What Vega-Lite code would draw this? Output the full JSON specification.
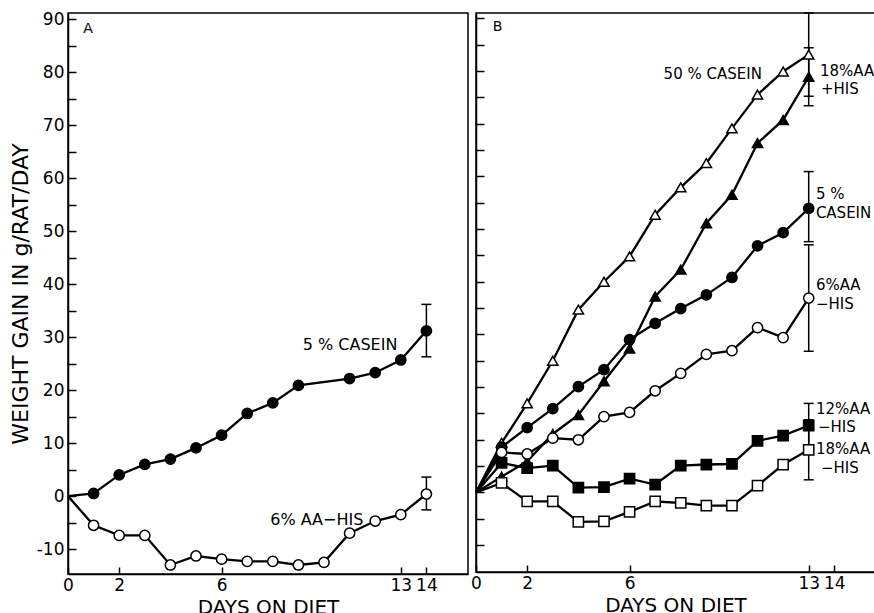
{
  "$schema": "https://vega.github.io/schema/vega-lite/v6.json",
  "background": "white",
  "padding": {"left": 8, "top": 9, "right": 0, "bottom": 0},
  "spacing": 0,
  "config": {
    "font": "DejaVu Sans",
    "view": {"stroke": "black", "strokeWidth": 1.5},
    "axis": {"domainColor": "black", "domainWidth": 1.5, "tickColor": "black", "tickWidth": 1.5, "labelColor": "black", "titleColor": "black", "labelFont": "DejaVu Sans", "titleFont": "DejaVu Sans", "grid": false, "labelFontSize": 17, "titleFontSize": 20, "titleFontWeight": "normal", "labelFlush": false, "labelOverlap": false},
    "text": {"font": "DejaVu Sans", "color": "black"}
  },
  "resolve": {"scale": {"x": "independent", "y": "independent"}},
  "datasets": {
    "pts": [
      {"panel": "A", "series": "5% casein", "day": 0, "gain": 0},
      {"panel": "A", "series": "5% casein", "day": 1, "gain": 0.5},
      {"panel": "A", "series": "5% casein", "day": 2, "gain": 4.0},
      {"panel": "A", "series": "5% casein", "day": 3, "gain": 6.0},
      {"panel": "A", "series": "5% casein", "day": 4, "gain": 7.0},
      {"panel": "A", "series": "5% casein", "day": 5, "gain": 9.1},
      {"panel": "A", "series": "5% casein", "day": 6, "gain": 11.5},
      {"panel": "A", "series": "5% casein", "day": 7, "gain": 15.6},
      {"panel": "A", "series": "5% casein", "day": 8, "gain": 17.6},
      {"panel": "A", "series": "5% casein", "day": 9, "gain": 20.9},
      {"panel": "A", "series": "5% casein", "day": 11, "gain": 22.2},
      {"panel": "A", "series": "5% casein", "day": 12, "gain": 23.3},
      {"panel": "A", "series": "5% casein", "day": 13, "gain": 25.7},
      {"panel": "A", "series": "5% casein", "day": 14, "gain": 31.2},
      {"panel": "A", "series": "6% AA-HIS", "day": 0, "gain": 0},
      {"panel": "A", "series": "6% AA-HIS", "day": 1, "gain": -5.5},
      {"panel": "A", "series": "6% AA-HIS", "day": 2, "gain": -7.4},
      {"panel": "A", "series": "6% AA-HIS", "day": 3, "gain": -7.4},
      {"panel": "A", "series": "6% AA-HIS", "day": 4, "gain": -13.0},
      {"panel": "A", "series": "6% AA-HIS", "day": 5, "gain": -11.3},
      {"panel": "A", "series": "6% AA-HIS", "day": 6, "gain": -11.9},
      {"panel": "A", "series": "6% AA-HIS", "day": 7, "gain": -12.3},
      {"panel": "A", "series": "6% AA-HIS", "day": 8, "gain": -12.3},
      {"panel": "A", "series": "6% AA-HIS", "day": 9, "gain": -13.0},
      {"panel": "A", "series": "6% AA-HIS", "day": 10, "gain": -12.5},
      {"panel": "A", "series": "6% AA-HIS", "day": 11, "gain": -7.0},
      {"panel": "A", "series": "6% AA-HIS", "day": 12, "gain": -4.7},
      {"panel": "A", "series": "6% AA-HIS", "day": 13, "gain": -3.5},
      {"panel": "A", "series": "6% AA-HIS", "day": 14, "gain": 0.4},
      {"panel": "B", "series": "50% casein", "day": 0, "gain": 0},
      {"panel": "B", "series": "50% casein", "day": 1, "gain": 9.4},
      {"panel": "B", "series": "50% casein", "day": 2, "gain": 16.9},
      {"panel": "B", "series": "50% casein", "day": 3, "gain": 25.0},
      {"panel": "B", "series": "50% casein", "day": 4, "gain": 34.7},
      {"panel": "B", "series": "50% casein", "day": 5, "gain": 40.0},
      {"panel": "B", "series": "50% casein", "day": 6, "gain": 44.8},
      {"panel": "B", "series": "50% casein", "day": 7, "gain": 52.7},
      {"panel": "B", "series": "50% casein", "day": 8, "gain": 57.9},
      {"panel": "B", "series": "50% casein", "day": 9, "gain": 62.5},
      {"panel": "B", "series": "50% casein", "day": 10, "gain": 69.1},
      {"panel": "B", "series": "50% casein", "day": 11, "gain": 75.5},
      {"panel": "B", "series": "50% casein", "day": 12, "gain": 79.9},
      {"panel": "B", "series": "50% casein", "day": 13, "gain": 83.1},
      {"panel": "B", "series": "18% AA+HIS", "day": 0, "gain": 0},
      {"panel": "B", "series": "18% AA+HIS", "day": 1, "gain": 3.0},
      {"panel": "B", "series": "18% AA+HIS", "day": 2, "gain": 5.9},
      {"panel": "B", "series": "18% AA+HIS", "day": 3, "gain": 11.1},
      {"panel": "B", "series": "18% AA+HIS", "day": 4, "gain": 14.7},
      {"panel": "B", "series": "18% AA+HIS", "day": 5, "gain": 21.1},
      {"panel": "B", "series": "18% AA+HIS", "day": 6, "gain": 27.3},
      {"panel": "B", "series": "18% AA+HIS", "day": 7, "gain": 37.2},
      {"panel": "B", "series": "18% AA+HIS", "day": 8, "gain": 42.3},
      {"panel": "B", "series": "18% AA+HIS", "day": 9, "gain": 51.1},
      {"panel": "B", "series": "18% AA+HIS", "day": 10, "gain": 56.5},
      {"panel": "B", "series": "18% AA+HIS", "day": 11, "gain": 66.3},
      {"panel": "B", "series": "18% AA+HIS", "day": 12, "gain": 70.7},
      {"panel": "B", "series": "18% AA+HIS", "day": 13, "gain": 78.9},
      {"panel": "B", "series": "5% casein", "day": 0, "gain": 0},
      {"panel": "B", "series": "5% casein", "day": 1, "gain": 8.6},
      {"panel": "B", "series": "5% casein", "day": 2, "gain": 12.3},
      {"panel": "B", "series": "5% casein", "day": 3, "gain": 15.9},
      {"panel": "B", "series": "5% casein", "day": 4, "gain": 20.1},
      {"panel": "B", "series": "5% casein", "day": 5, "gain": 23.3},
      {"panel": "B", "series": "5% casein", "day": 6, "gain": 29.0},
      {"panel": "B", "series": "5% casein", "day": 7, "gain": 32.1},
      {"panel": "B", "series": "5% casein", "day": 8, "gain": 34.9},
      {"panel": "B", "series": "5% casein", "day": 9, "gain": 37.5},
      {"panel": "B", "series": "5% casein", "day": 10, "gain": 40.8},
      {"panel": "B", "series": "5% casein", "day": 11, "gain": 46.8},
      {"panel": "B", "series": "5% casein", "day": 12, "gain": 49.3},
      {"panel": "B", "series": "5% casein", "day": 13, "gain": 53.9},
      {"panel": "B", "series": "6% AA-HIS", "day": 0, "gain": 0},
      {"panel": "B", "series": "6% AA-HIS", "day": 1, "gain": 7.6},
      {"panel": "B", "series": "6% AA-HIS", "day": 2, "gain": 7.3},
      {"panel": "B", "series": "6% AA-HIS", "day": 3, "gain": 10.3},
      {"panel": "B", "series": "6% AA-HIS", "day": 4, "gain": 10.0},
      {"panel": "B", "series": "6% AA-HIS", "day": 5, "gain": 14.4},
      {"panel": "B", "series": "6% AA-HIS", "day": 6, "gain": 15.2},
      {"panel": "B", "series": "6% AA-HIS", "day": 7, "gain": 19.3},
      {"panel": "B", "series": "6% AA-HIS", "day": 8, "gain": 22.6},
      {"panel": "B", "series": "6% AA-HIS", "day": 9, "gain": 26.2},
      {"panel": "B", "series": "6% AA-HIS", "day": 10, "gain": 26.9},
      {"panel": "B", "series": "6% AA-HIS", "day": 11, "gain": 31.3},
      {"panel": "B", "series": "6% AA-HIS", "day": 12, "gain": 29.4},
      {"panel": "B", "series": "6% AA-HIS", "day": 13, "gain": 36.9},
      {"panel": "B", "series": "12% AA-HIS", "day": 0, "gain": 0},
      {"panel": "B", "series": "12% AA-HIS", "day": 1, "gain": 5.6},
      {"panel": "B", "series": "12% AA-HIS", "day": 2, "gain": 4.6},
      {"panel": "B", "series": "12% AA-HIS", "day": 3, "gain": 5.1},
      {"panel": "B", "series": "12% AA-HIS", "day": 4, "gain": 0.9},
      {"panel": "B", "series": "12% AA-HIS", "day": 5, "gain": 1.0},
      {"panel": "B", "series": "12% AA-HIS", "day": 6, "gain": 2.6},
      {"panel": "B", "series": "12% AA-HIS", "day": 7, "gain": 1.5},
      {"panel": "B", "series": "12% AA-HIS", "day": 8, "gain": 5.1},
      {"panel": "B", "series": "12% AA-HIS", "day": 9, "gain": 5.3},
      {"panel": "B", "series": "12% AA-HIS", "day": 10, "gain": 5.4},
      {"panel": "B", "series": "12% AA-HIS", "day": 11, "gain": 9.8},
      {"panel": "B", "series": "12% AA-HIS", "day": 12, "gain": 10.8},
      {"panel": "B", "series": "12% AA-HIS", "day": 13, "gain": 12.7},
      {"panel": "B", "series": "18% AA-HIS", "day": 0, "gain": 0},
      {"panel": "B", "series": "18% AA-HIS", "day": 1, "gain": 1.8},
      {"panel": "B", "series": "18% AA-HIS", "day": 2, "gain": -1.7},
      {"panel": "B", "series": "18% AA-HIS", "day": 3, "gain": -1.7},
      {"panel": "B", "series": "18% AA-HIS", "day": 4, "gain": -5.6},
      {"panel": "B", "series": "18% AA-HIS", "day": 5, "gain": -5.5},
      {"panel": "B", "series": "18% AA-HIS", "day": 6, "gain": -3.7},
      {"panel": "B", "series": "18% AA-HIS", "day": 7, "gain": -1.7},
      {"panel": "B", "series": "18% AA-HIS", "day": 8, "gain": -2.0},
      {"panel": "B", "series": "18% AA-HIS", "day": 9, "gain": -2.5},
      {"panel": "B", "series": "18% AA-HIS", "day": 10, "gain": -2.5},
      {"panel": "B", "series": "18% AA-HIS", "day": 11, "gain": 1.3},
      {"panel": "B", "series": "18% AA-HIS", "day": 12, "gain": 5.3},
      {"panel": "B", "series": "18% AA-HIS", "day": 13, "gain": 8.1}
    ],
    "errs": [
      {"panel": "A", "series": "5% casein", "day": 14, "lo": 26.3, "hi": 36.2},
      {"panel": "A", "series": "6% AA-HIS", "day": 14, "lo": -2.6, "hi": 3.6},
      {"panel": "B", "series": "50% casein", "day": 13, "lo": 75.2, "hi": 91.0},
      {"panel": "B", "series": "18% AA+HIS", "day": 13, "lo": 73.4, "hi": 84.4},
      {"panel": "B", "series": "5% casein", "day": 13, "lo": 47.6, "hi": 60.9},
      {"panel": "B", "series": "6% AA-HIS", "day": 13, "lo": 26.8, "hi": 47.0},
      {"panel": "B", "series": "12% AA-HIS", "day": 13, "lo": 8.5, "hi": 16.9},
      {"panel": "B", "series": "18% AA-HIS", "day": 13, "lo": 2.4, "hi": 13.8}
    ],
    "labels": [
      {"panel": "A", "text": "A", "day": 0.6, "gain": 88.2},
      {"panel": "A", "text": "5 % CASEIN", "day": 9.17, "gain": 28.5},
      {"panel": "A", "text": "6% AA−HIS", "day": 7.9, "gain": -4.5},
      {"panel": "B", "text": "B", "day": 0.65, "gain": 88.4},
      {"panel": "B", "text": "50 % CASEIN", "day": 7.33, "gain": 79.4},
      {"panel": "B", "text": "18%AA", "day": 13.44, "gain": 80.0},
      {"panel": "B", "text": "+HIS", "day": 13.48, "gain": 76.6},
      {"panel": "B", "text": "5 %", "day": 13.28, "gain": 56.6},
      {"panel": "B", "text": "CASEIN", "day": 13.28, "gain": 53.0},
      {"panel": "B", "text": "6%AA", "day": 13.28, "gain": 39.3},
      {"panel": "B", "text": "−HIS", "day": 13.28, "gain": 35.8},
      {"panel": "B", "text": "12%AA", "day": 13.28, "gain": 15.8},
      {"panel": "B", "text": "−HIS", "day": 13.36, "gain": 12.4},
      {"panel": "B", "text": "18%AA", "day": 13.28, "gain": 8.2},
      {"panel": "B", "text": "−HIS", "day": 13.48, "gain": 4.7}
    ]
  },
  "hconcat": [
    {
      "width": 400,
      "height": 561,
      "encoding": {
        "x": {"type": "quantitative", "scale": {"domain": [0, 15.625], "nice": false, "zero": false},
          "axis": {"values": [0, 2, 6, 13, 14], "tickSize": -7, "labelPadding": 10, "title": "DAYS ON DIET", "titlePadding": 4, "format": "d"}},
        "y": {"type": "quantitative", "scale": {"domain": [-14.7, 91.2], "nice": false, "zero": false},
          "axis": {"values": [-10, -5, 0, 5, 10, 15, 20, 25, 30, 35, 40, 45, 50, 55, 60, 65, 70, 75, 80, 85, 90], "tickSize": -8, "labelPadding": 12, "labelExpr": "datum.value % 10 == 0 ? replace(datum.label, '−', '-') : ''", "title": "WEIGHT GAIN IN g/RAT/DAY", "titleFontSize": 22, "titlePadding": 4}}
      },
      "layer": [
        {"mark": {"type": "rule", "color": "black", "strokeWidth": 1.5, "strokeDash": [12, 7]},
         "encoding": {"x": {"datum": 0}, "x2": {"datum": 14.45}, "y": {"datum": 0}}},
        {"mark": {"type": "rule", "color": "black", "strokeWidth": 1.5},
         "encoding": {"x": {"datum": 14.84}}},
        {"data": {"name": "errs"}, "transform": [{"filter": "datum.panel == 'A'"}],
         "mark": {"type": "rule", "color": "black", "strokeWidth": 1.5},
         "encoding": {"x": {"field": "day"}, "y": {"field": "lo"}, "y2": {"field": "hi"}}},
        {"data": {"name": "errs"}, "transform": [{"filter": "datum.panel == 'A'"}],
         "mark": {"type": "tick", "orient": "horizontal", "color": "black", "size": 10, "thickness": 1.5, "opacity": 1},
         "encoding": {"x": {"field": "day"}, "y": {"field": "lo"}}},
        {"data": {"name": "errs"}, "transform": [{"filter": "datum.panel == 'A'"}],
         "mark": {"type": "tick", "orient": "horizontal", "color": "black", "size": 10, "thickness": 1.5, "opacity": 1},
         "encoding": {"x": {"field": "day"}, "y": {"field": "hi"}}},
        {"data": {"name": "pts"}, "transform": [{"filter": "datum.panel == 'A'"}],
         "mark": {"type": "line", "color": "black", "strokeWidth": 2.3},
         "encoding": {"x": {"field": "day"}, "y": {"field": "gain"}, "detail": {"field": "series"}}},
        {"data": {"name": "pts"}, "transform": [{"filter": "datum.panel == 'A' && datum.day > 0"}],
         "mark": {"type": "point", "filled": true, "stroke": "black", "strokeWidth": 1.5, "opacity": 1},
         "encoding": {"x": {"field": "day"}, "y": {"field": "gain"},
           "shape": {"field": "series", "type": "nominal", "scale": {"domain": ["5% casein", "6% AA-HIS", "50% casein", "18% AA+HIS", "12% AA-HIS", "18% AA-HIS"], "range": ["circle", "circle", "triangle-up", "triangle-up", "square", "square"]}, "legend": null},
           "size": {"field": "series", "type": "nominal", "scale": {"domain": ["5% casein", "6% AA-HIS", "50% casein", "18% AA+HIS", "12% AA-HIS", "18% AA-HIS"], "range": [105, 105, 150, 150, 95, 95]}, "legend": null},
           "fill": {"field": "series", "type": "nominal", "scale": {"domain": ["5% casein", "6% AA-HIS", "50% casein", "18% AA+HIS", "12% AA-HIS", "18% AA-HIS"], "range": ["black", "white", "white", "black", "black", "white"]}, "legend": null}}},
        {"data": {"name": "labels"}, "transform": [{"filter": "datum.panel == 'A' && datum.text != 'A'"}],
         "mark": {"type": "text", "align": "left", "baseline": "middle", "fontSize": 16},
         "encoding": {"x": {"field": "day"}, "y": {"field": "gain"}, "text": {"field": "text"}}},
        {"data": {"name": "labels"}, "transform": [{"filter": "datum.text == 'A'"}],
         "mark": {"type": "text", "align": "left", "baseline": "middle", "fontSize": 14},
         "encoding": {"x": {"field": "day"}, "y": {"field": "gain"}, "text": {"field": "text"}}}
      ]
    },
    {
      "width": 399,
      "height": 559,
      "encoding": {
        "x": {"type": "quantitative", "scale": {"domain": [0, 15.59], "nice": false, "zero": false},
          "axis": {"values": [0, 2, 6, 13, 14], "tickSize": -7, "labelPadding": 10, "title": "DAYS ON DIET", "titlePadding": 4, "format": "d"}},
        "y": {"type": "quantitative", "scale": {"domain": [-15.1, 91], "nice": false, "zero": false},
          "axis": {"values": [-10, -5, 0, 5, 10, 15, 20, 25, 30, 35, 40, 45, 50, 55, 60, 65, 70, 75, 80, 85, 90], "tickSize": -8, "labels": false, "title": null}}
      },
      "layer": [
        {"mark": {"type": "rule", "color": "black", "strokeWidth": 1.5, "strokeDash": [12, 7]},
         "encoding": {"x": {"datum": 0}, "x2": {"datum": 13.36}, "y": {"datum": 0}}},
        {"data": {"name": "errs"}, "transform": [{"filter": "datum.panel == 'B'"}],
         "mark": {"type": "rule", "color": "black", "strokeWidth": 1.5},
         "encoding": {"x": {"field": "day"}, "y": {"field": "lo"}, "y2": {"field": "hi"}}},
        {"data": {"name": "errs"}, "transform": [{"filter": "datum.panel == 'B'"}],
         "mark": {"type": "tick", "orient": "horizontal", "color": "black", "size": 10, "thickness": 1.5, "opacity": 1},
         "encoding": {"x": {"field": "day"}, "y": {"field": "lo"}}},
        {"data": {"name": "errs"}, "transform": [{"filter": "datum.panel == 'B'"}],
         "mark": {"type": "tick", "orient": "horizontal", "color": "black", "size": 10, "thickness": 1.5, "opacity": 1},
         "encoding": {"x": {"field": "day"}, "y": {"field": "hi"}}},
        {"data": {"name": "pts"}, "transform": [{"filter": "datum.panel == 'B'"}],
         "mark": {"type": "line", "color": "black", "strokeWidth": 2.3},
         "encoding": {"x": {"field": "day"}, "y": {"field": "gain"}, "detail": {"field": "series"}}},
        {"data": {"name": "pts"}, "transform": [{"filter": "datum.panel == 'B' && datum.day > 0"}],
         "mark": {"type": "point", "filled": true, "stroke": "black", "strokeWidth": 1.5, "opacity": 1},
         "encoding": {"x": {"field": "day"}, "y": {"field": "gain"},
           "shape": {"field": "series", "type": "nominal", "scale": {"domain": ["5% casein", "6% AA-HIS", "50% casein", "18% AA+HIS", "12% AA-HIS", "18% AA-HIS"], "range": ["circle", "circle", "triangle-up", "triangle-up", "square", "square"]}, "legend": null},
           "size": {"field": "series", "type": "nominal", "scale": {"domain": ["5% casein", "6% AA-HIS", "50% casein", "18% AA+HIS", "12% AA-HIS", "18% AA-HIS"], "range": [105, 105, 150, 150, 95, 95]}, "legend": null},
           "fill": {"field": "series", "type": "nominal", "scale": {"domain": ["5% casein", "6% AA-HIS", "50% casein", "18% AA+HIS", "12% AA-HIS", "18% AA-HIS"], "range": ["black", "white", "white", "black", "black", "white"]}, "legend": null}}},
        {"data": {"name": "labels"}, "transform": [{"filter": "datum.panel == 'B' && datum.text != 'B'"}],
         "mark": {"type": "text", "align": "left", "baseline": "middle", "fontSize": 15},
         "encoding": {"x": {"field": "day"}, "y": {"field": "gain"}, "text": {"field": "text"}}},
        {"data": {"name": "labels"}, "transform": [{"filter": "datum.text == 'B'"}],
         "mark": {"type": "text", "align": "left", "baseline": "middle", "fontSize": 14},
         "encoding": {"x": {"field": "day"}, "y": {"field": "gain"}, "text": {"field": "text"}}}
      ]
    }
  ]
}
